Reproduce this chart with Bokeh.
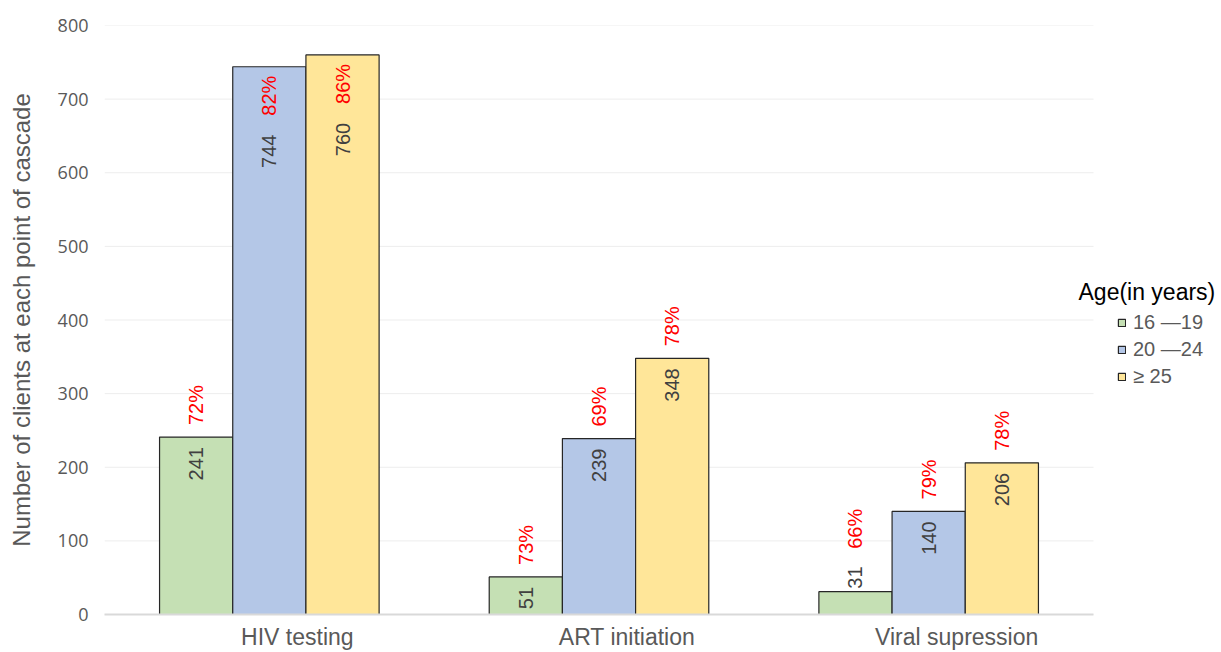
import math
from bokeh.plotting import figure
from bokeh.models import (ColumnDataSource, FixedTicker, Legend, LegendItem, Label)
from bokeh.core.properties import value
from bokeh.embed import file_html
from bokeh.resources import INLINE

# ---- data ----
categories = ["HIV testing", "ART initiation", "Viral supression"]
series_names = ["16 \u201419", "20 \u201424", "\u2265 25"]
counts_16_19 = [241, 51, 31]
counts_20_24 = [744, 239, 140]
counts_25_up = [760, 348, 206]
pct_16_19 = ["72%", "73%", "66%"]
pct_20_24 = ["82%", "69%", "79%"]
pct_25_up = ["86%", "78%", "78%"]
y_ticks = [0, 100, 200, 300, 400, 500, 600, 700, 800]

series_counts = [counts_16_19, counts_20_24, counts_25_up]
series_pcts = [pct_16_19, pct_20_24, pct_25_up]
colors = ["#C5E0B4", "#B4C7E7", "#FFE699"]

W, H = 1221, 652
TOP, BOTTOM, LEFT, RIGHT = 25, 37, 104, 2
FRAME_H = H - TOP - BOTTOM
FRAME_W = W - LEFT - RIGHT
Y_MAX = 800
PX = FRAME_H / Y_MAX            # pixels per y unit
N = len(categories)
UNIT_PX = 989 / N               # pixels per category slot (plot area 989 px wide)
X_START = -0.5
X_END = X_START + FRAME_W / UNIT_PX   # extra room on the right for the legend

BAR_W = 0.222
offsets = [-BAR_W, 0.0, BAR_W]

p = figure(width=W, height=H, output_backend="svg", toolbar_location=None,
           x_range=(X_START, X_END), y_range=(0, Y_MAX),
           min_border_top=TOP, min_border_bottom=BOTTOM,
           min_border_left=LEFT, min_border_right=RIGHT)
p.outline_line_color = None
p.background_fill_color = "white"

# horizontal gridlines limited to the category area
p.segment(x0=X_START, x1=N - 0.5, y0=y_ticks, y1=y_ticks,
          line_color="#EDEDED", line_width=1)

renderers = []
for j in range(3):
    src = ColumnDataSource(dict(x=[i + offsets[j] for i in range(N)],
                                top=series_counts[j]))
    r = p.vbar(x="x", top="top", width=BAR_W, bottom=0, source=src,
               fill_color=colors[j], line_color="#262626", line_width=1.2)
    renderers.append(r)

# ---- data labels ----
lx, ly, lt, la, lc = [], [], [], [], []
def add(x, y, t, a, c):
    lx.append(x); ly.append(y); lt.append(t); la.append(a); lc.append(c)

VAL_C = "#404040"
PCT_C = "#FF0000"
for j in range(3):
    for i in range(N):
        v = series_counts[j][i]
        pc = series_pcts[j][i]
        x = i + offsets[j]
        vlen = len(str(v)) * 11
        if v * PX < 30:
            add(x, v + 3 / PX, str(v), "left", VAL_C)
            add(x, v + (3 + vlen + 18) / PX, pc, "left", PCT_C)
        elif (Y_MAX - v) * PX < 50:
            add(x, v - 9 / PX, pc, "right", PCT_C)
            add(x, v - (9 + 40 + 19) / PX, str(v), "right", VAL_C)
        else:
            add(x, v - 10 / PX, str(v), "right", VAL_C)
            add(x, v + 12 / PX, pc, "left", PCT_C)

lsrc = ColumnDataSource(dict(x=lx, y=ly, t=lt, a=la, c=lc))
p.text(x="x", y="y", text="t", text_align="a", text_color="c", source=lsrc,
       angle=math.pi / 2, text_baseline="middle",
       text_font=value("Liberation Sans"), text_font_size="20px")

# ---- axes ----
p.xgrid.grid_line_color = None
p.ygrid.grid_line_color = None

yax = p.yaxis[0]
yax.ticker = FixedTicker(ticks=y_ticks)
yax.axis_line_color = None
yax.major_tick_line_color = None
yax.minor_tick_line_color = None
yax.major_label_text_font = "Open Sans"
yax.major_label_text_font_size = "18px"
yax.major_label_text_color = "#595959"
yax.major_label_standoff = 10
yax.axis_label = "Number of clients at each point of cascade"
yax.axis_label_text_font = "Liberation Sans"
yax.axis_label_text_font_size = "24px"
yax.axis_label_text_font_style = "normal"
yax.axis_label_text_color = "#595959"
yax.axis_label_standoff = 20

xticks = [i + 0.085 for i in range(N)]
xax = p.xaxis[0]
xax.ticker = FixedTicker(ticks=xticks)
xax.major_label_overrides = {t: c for t, c in zip(xticks, categories)}
xax.bounds = (X_START, N - 0.5)
xax.axis_line_color = "#D9D9D9"
xax.axis_line_width = 2
xax.major_tick_line_color = None
xax.minor_tick_line_color = None
xax.major_label_text_font = "Liberation Sans"
xax.major_label_text_font_size = "23px"
xax.major_label_text_color = "#595959"
xax.major_label_standoff = 3

# ---- legend ----
legend = Legend(items=[LegendItem(label=series_names[j], renderers=[renderers[j]]) for j in range(3)],
                location=(1013, 226), orientation="vertical",
                glyph_width=9, glyph_height=9, label_height=21, spacing=4,
                label_standoff=7, padding=0, margin=0,
                border_line_color=None, background_fill_alpha=0,
                label_text_font="Liberation Sans", label_text_font_size="20px",
                label_text_color="#595959")
p.add_layout(legend, "center")

title = Label(x=974, y=323, x_units="screen", y_units="screen", text="Age(in years)",
              text_font="Liberation Sans", text_font_size="23px", text_color="#000000",
              text_baseline="middle", text_align="left")
p.add_layout(title)

open("out.html", "w").write(file_html(p, INLINE))
